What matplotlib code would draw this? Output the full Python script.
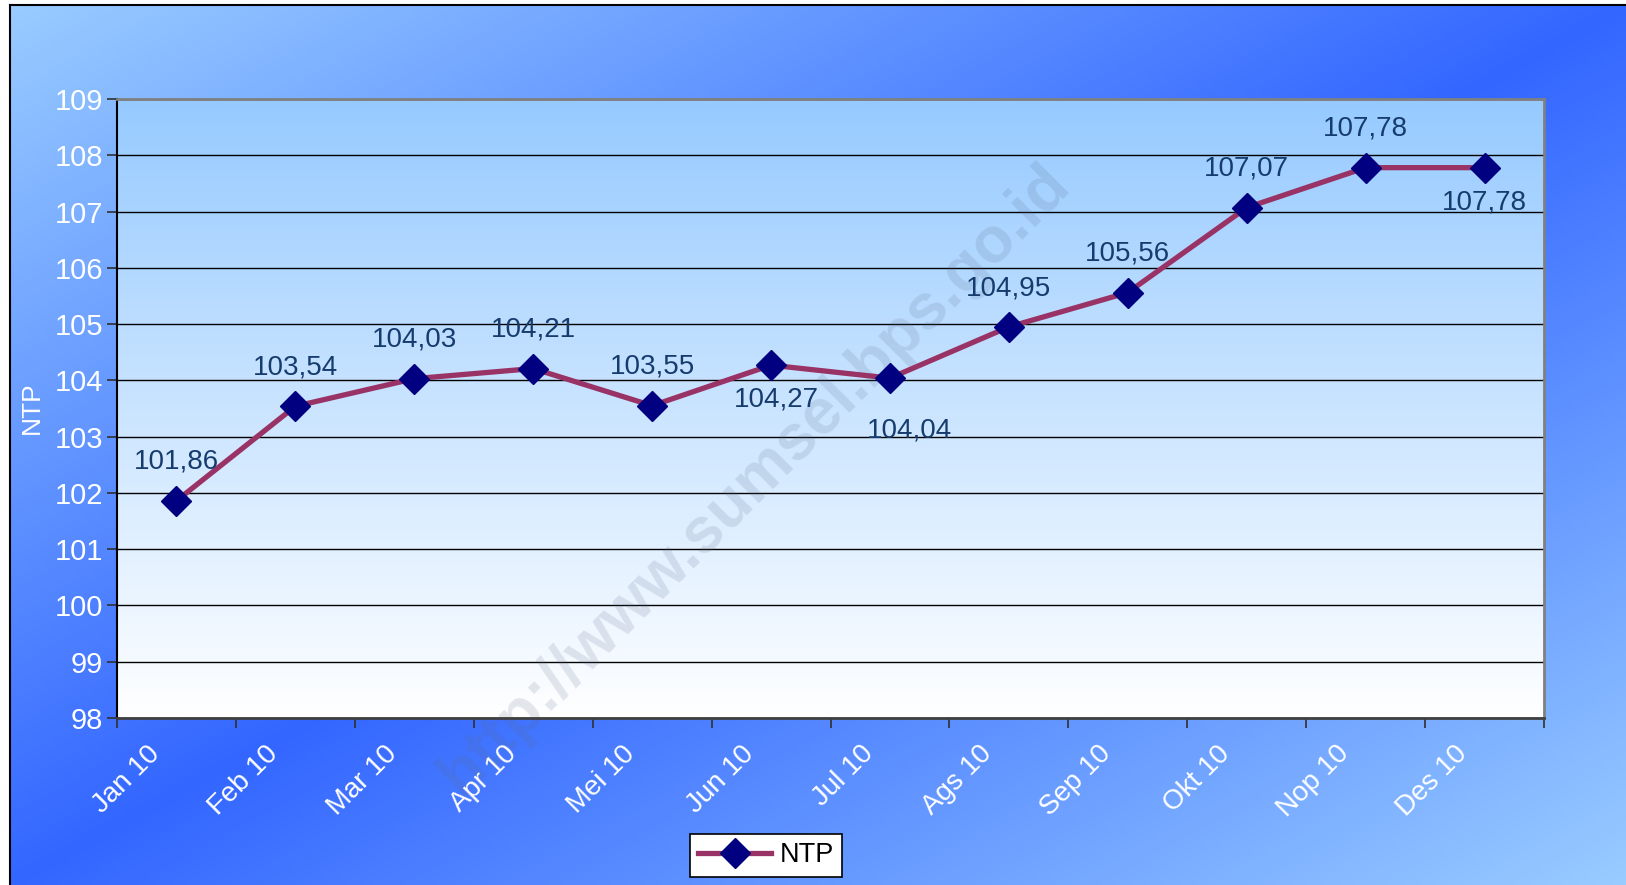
import numpy as np
import matplotlib.pyplot as plt

months = ['Jan 10', 'Feb 10', 'Mar 10', 'Apr 10', 'Mei 10', 'Jun 10',
          'Jul 10', 'Ags 10', 'Sep 10', 'Okt 10', 'Nop 10', 'Des 10']
ntp = [101.86, 103.54, 104.03, 104.21, 103.55, 104.27,
       104.04, 104.95, 105.56, 107.07, 107.78, 107.78]
y_ticks = list(range(98, 110))

plt.rcParams['font.family'] = ['Liberation Sans', 'DejaVu Sans']

W, H = 1626, 885
fig = plt.figure(figsize=(W / 100, H / 100), dpi=100)
fig.patch.set_facecolor('white')

# chart area background: light at top-left / bottom-right, dark along the other diagonal
bg = fig.add_axes([10 / W, 0, 1 - 10 / W, 1 - 5 / H], zorder=-10)
u, v = np.meshgrid(np.linspace(0, 1, 400), np.linspace(0, 1, 220))
t = np.abs(u + v - 1)[..., None]
dark = np.array([51, 102, 255]) / 255
light = np.array([153, 204, 255]) / 255
bg.imshow(dark + (light - dark) * t, extent=[0, 1, 0, 1], aspect='auto', origin='upper')
bg.set_xlim(0, 1)
bg.set_ylim(0, 1)
bg.set_xticks([])
bg.set_yticks([])
for s in ['right', 'bottom']:
    bg.spines[s].set_visible(False)
for s in ['left', 'top']:
    bg.spines[s].set_linewidth(1.5)

# ====== plot area ======
ax = fig.add_axes([117 / W, 1 - 718 / H, 1427 / W, 619 / H], zorder=1)
ax.set_facecolor('none')
g = np.linspace(0, 1, 256)[:, None, None]
top = np.array([150, 202, 255]) / 255
ax.imshow(top + (1 - top) * g, extent=[0, 1, 0, 1], transform=ax.transAxes,
          aspect='auto', zorder=0)

x = np.arange(len(months))
ax.plot(x, ntp, color='#993366', lw=3.8, marker='D', ms=15,
        mfc='#000080', mec='#000080', label='NTP', zorder=3)

ax.set_xlim(-0.5, len(months) - 0.5)
ax.set_ylim(98, 109)

# watermark
ax.text(0.447, 0.385, 'http://www.sumsel.bps.go.id', transform=ax.transAxes,
        rotation=45, fontsize=46, fontweight='bold', color='#5a6a8a', alpha=0.16,
        ha='center', va='center', zorder=1, clip_on=False)

# data labels (Excel put three of them below the point)
label_offsets = {5: (4, -25), 6: (14, -38), 11: (0, -25)}
for i, val in enumerate(ntp):
    dx, dy = label_offsets.get(i, (0, 28))
    ax.annotate(f'{val:.2f}'.replace('.', ','), xy=(i, val), xytext=(dx, dy),
                textcoords='offset points', ha='center', va='center',
                fontsize=20, color='#163c6e', zorder=4)

# axes styling
ax.set_yticks(y_ticks)
ax.yaxis.grid(True, color='black', lw=1.0)
ax.set_axisbelow(True)
ax.tick_params(axis='y', length=7, width=1.2, direction='out', color='#303030',
               labelcolor='white', labelsize=21, pad=3)
ax.set_xticks(np.arange(len(months) + 1) - 0.5)
ax.tick_params(axis='x', length=7, width=1.2, direction='out', color='#303030',
               labelbottom=False)
for i, m in enumerate(months):
    ax.annotate(m, xy=(i, 0), xycoords=('data', 'axes fraction'), xytext=(-15, -23),
                textcoords='offset points', rotation=45, ha='right', va='center',
                rotation_mode='anchor', color='white', fontsize=20,
                annotation_clip=False)

ax.spines['left'].set_color('black')
ax.spines['left'].set_linewidth(1.5)
for s in ['top', 'right']:
    ax.spines[s].set_color('#808080')
    ax.spines[s].set_linewidth(2)
ax.spines['bottom'].set_color('#404040')
ax.spines['bottom'].set_linewidth(2)

fig.text(32 / W, 1 - 408 / H, 'NTP', rotation=90, ha='center', va='center',
         color='white', fontsize=19)

leg = ax.legend(loc='center', bbox_to_anchor=(766 / W, 1 - 855.5 / H),
                bbox_transform=fig.transFigure, fancybox=False, edgecolor='black',
                framealpha=1, fontsize=19.5, handlelength=2.7, borderpad=0.3,
                handletextpad=0.3)
leg.get_frame().set_linewidth(1.2)

fig.savefig('out.png', dpi=100)
